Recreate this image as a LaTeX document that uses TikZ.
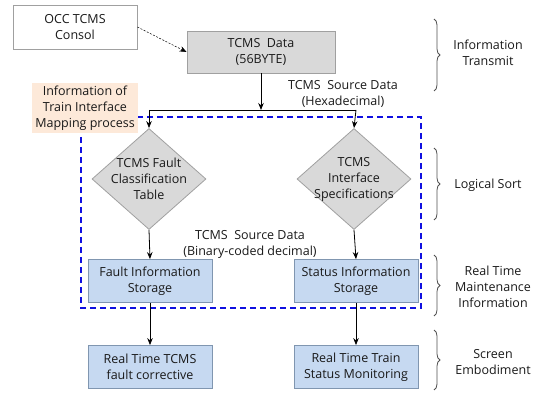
\documentclass[tikz,border=0pt]{standalone}
\usepackage{fontspec}
\setmainfont{Open Sans}
\usetikzlibrary{shapes.geometric,arrows.meta,decorations.pathreplacing}
\definecolor{grayfill}{HTML}{D9D9D9}
\definecolor{grayline}{HTML}{A0A0A0}
\definecolor{bluefill}{HTML}{C6D9F1}
\definecolor{blueline}{HTML}{8096B0}
\definecolor{peach}{HTML}{FDE9D9}
\definecolor{dashblue}{HTML}{1010E0}
\definecolor{bracecol}{HTML}{505050}
\begin{document}
\begin{tikzpicture}[x=1pt,y=-1pt,
  every node/.style={font=\fontsize{12.5}{16}\selectfont, align=center, text=black!90},
  whitebox/.style={draw=grayline, fill=white, line width=0.8pt, minimum width=124pt, minimum height=44pt, inner sep=0pt},
  graybox/.style={draw=grayline, fill=grayfill, line width=0.8pt, minimum width=148pt, minimum height=42pt, inner sep=0pt},
  bluebox/.style={draw=blueline, fill=bluefill, line width=0.8pt, minimum width=124pt, minimum height=43pt, inner sep=0pt},
  dia/.style={diamond, draw=grayline, fill=grayfill, line width=0.8pt, minimum width=114pt, minimum height=101pt, inner sep=0pt},
  arr/.style={-{Stealth[length=7pt,width=5.5pt]}, line width=0.8pt, black},
  brc/.style={decorate, decoration={brace, amplitude=6pt}, draw=bracecol, line width=0.8pt},
  side/.style={font=\fontsize{12.5}{16}\selectfont}
]
\useasboundingbox (0,0) rectangle (544,393);

% dashed blue region
\draw[dashblue, dashed, line width=1.2pt, dash pattern=on 6pt off 4pt] (81,117) rectangle (421,308);

% nodes
\node[whitebox] (occ) at (75,27) {OCC TCMS\\Consol};
\node[graybox] (data) at (261,52) {TCMS~~Data\\(56BYTE)};
\node[fill=peach, inner sep=2pt, minimum width=106pt, minimum height=50pt] (map) at (85,108) {Information of\\Train Interface\\Mapping process};

\node[dia] (d1) at (149,179) {};
\node at (d1.center) {TCMS Fault\\Classification\\Table};
\node[dia] (d2) at (354,179) {};
\node at (d2.center) {TCMS\\Interface\\Specifications};

\node[bluebox] (fis) at (150,281) {Fault Information\\Storage};
\node[bluebox] (sis) at (356,281) {Status Information\\Storage};
\node[bluebox] (rtf) at (150,367) {Real Time TCMS\\fault corrective};
\node[bluebox] (rts) at (356,367) {Real Time Train\\Status Monitoring};

% split point
\coordinate (split) at (261,110);
\coordinate (sl) at (149,110);
\coordinate (sr) at (356,110);

% connectors
\draw[arr, dashed, dash pattern=on 2pt off 1.5pt, line width=0.5pt] (occ.east) -- (data.west |- 0,52);
\draw[arr] (data.south) -- (split);
\draw[line width=0.8pt] (sl) -- (sr);
\draw[arr] (sl) -- (d1.north);
\draw[arr] (sr) -- (d2.north);
\draw[arr] (d1.south) -- (fis.north);
\draw[arr] (d2.south) -- (sis.north);
\draw[arr] (fis.south) -- (rtf.north);
\draw[arr] (sis.south) -- (rts.north);

% labels
\node (lbl1) at (343,94) {TCMS~~Source Data\\(Hexadecimal)};
\node (lbl2) at (250,244) {TCMS~~Source Data\\(Binary-coded decimal)};

% braces
\draw[brc] (434,19) -- (434,91);
\node[side] (t1) at (488,53) {Information\\Transmit};
\draw[brc] (434,148) -- (434,220);
\node[side] (t2) at (488,185) {Logical Sort};
\draw[brc] (434,255) -- (434,316);
\node[side] (t3) at (493,287) {Real Time\\Maintenance\\Information};
\draw[brc] (434,330) -- (434,390);
\node[side] (t4) at (493,362) {Screen\\Embodiment};
\end{tikzpicture}
\end{document}
